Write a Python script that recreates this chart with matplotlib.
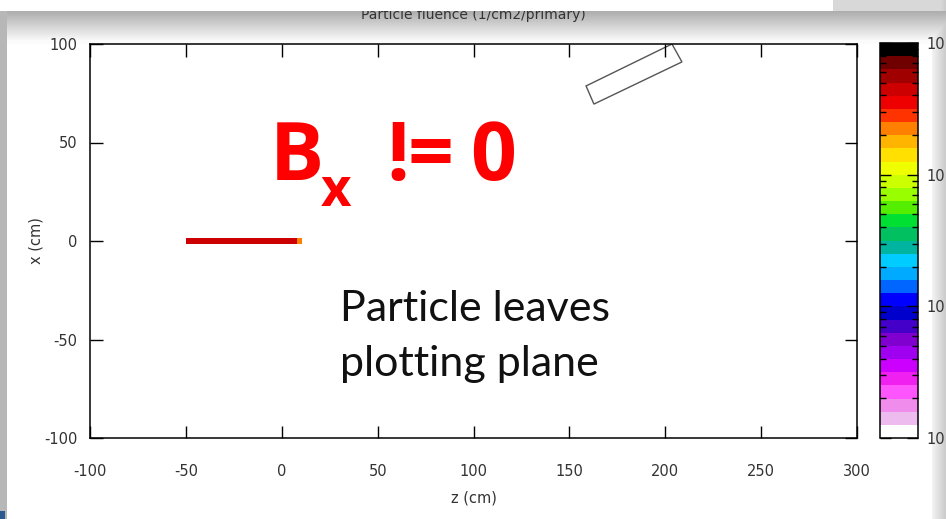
import numpy as np
import matplotlib.pyplot as plt
from matplotlib.colors import ListedColormap, LogNorm
from matplotlib.patches import Polygon
import matplotlib.cm as cm

plt.rcParams["axes.unicode_minus"] = False

# colour bands of the fluence palette, from lowest (white) to highest (black)
band_colors = [
    "#ffffff", "#eebbee", "#f08cec", "#ff55ff", "#f020f0", "#cc00ff",
    "#a000f0", "#8000d0", "#4400c8", "#0000cc", "#0000ff", "#0066ff",
    "#00aaff", "#00ccff", "#00b4a0", "#00c060", "#00e033", "#55ee00",
    "#99ff00", "#ccff00", "#f0ff00", "#ffe000", "#ffb400", "#ff8000",
    "#ff3300", "#ee0000", "#cc0000", "#a00000", "#700000", "#000000",
]
fluence_min, fluence_max = 1e-4, 1e-1

# fluence along the primary track (z bins, narrow x band)
track_z_edges = [-50, 8, 10.5]
track_x_edges = [-1.3, 1.3]
track_fluence = [[0.045, 0.022]]

# outline of the tilted element
box_z = [158.7, 162.8, 208.7, 203.5]
box_x = [78.7, 69.5, 90.9, 100.0]

z_ticks = [-100, -50, 0, 50, 100, 150, 200, 250, 300]
x_ticks = [-100, -50, 0, 50, 100]
cbar_ticks = [1e-4, 1e-3, 1e-2, 1e-1]

W, H = 946, 519
fig = plt.figure(figsize=(W / 100, H / 100), dpi=100)

# screenshot backdrop (window shadows)
bg = np.ones((H, W, 3))
top = np.concatenate([np.full(11, 0.85), np.linspace(0.68, 0.97, 29)])
bg[:40] = top[:, None, None]
bg[40:44] = 0.985
right = np.linspace(0.95, 0.80, 14)
bg[:, W - 14:] = np.minimum(bg[:, W - 14:], right[None, :, None])
bg[11:, :7] = 0.72
bg[H - 8:, :5] = [0.17, 0.36, 0.56]
fig.figimage(bg, xo=0, yo=0, origin="upper", zorder=-5)

# white window overlapping the title
cover = np.ones((11, 833, 3))
fig.figimage(cover, xo=0, yo=H - 11, origin="upper", zorder=10)

fig.text(473 / W, 1 - 15 / H, "Particle fluence (1/cm2/primary)", ha="center",
         va="center", fontsize=10, color="#333333", zorder=1)

cmap = ListedColormap(band_colors)
norm = LogNorm(vmin=fluence_min, vmax=fluence_max)

ax = fig.add_axes([90 / W, 1 - 438 / H, (857 - 90) / W, (438 - 44) / H])
ax.pcolormesh(track_z_edges, track_x_edges, np.array(track_fluence), cmap=cmap, norm=norm)
ax.add_patch(Polygon(list(zip(box_z, box_x)), closed=True, fill=False,
                     edgecolor="#555555", linewidth=1.0))
ax.set_xlim(-100, 300)
ax.set_ylim(-100, 100)
ax.set_xticks(z_ticks)
ax.set_yticks(x_ticks)
ax.tick_params(direction="in", top=True, right=True, length=9, width=1,
               labelsize=10.5, labelcolor="#333333")
ax.tick_params(axis="x", pad=19)
ax.tick_params(axis="y", pad=9)
for s in ax.spines.values():
    s.set_linewidth(1.1)
ax.set_xlabel("z (cm)", fontsize=10.5, color="#333333")
ax.set_ylabel("x (cm)", fontsize=10.5, color="#333333")
ax.xaxis.set_label_coords(0.5, -0.132)
ax.yaxis.set_label_coords(-0.060, 0.5)

# annotations
red_font = dict(family="Open Sans", weight="bold", color="#ff0000")
ax.text(-6.5, 31, "B", fontsize=58, ha="left", va="baseline", **red_font)
ax.text(20.5, 18, "x", fontsize=38, ha="left", va="baseline", **red_font)
ax.text(54.5, 31, "!", fontsize=58, ha="left", va="baseline", **red_font)
ax.text(65.5, 31, "=", fontsize=58, ha="left", va="baseline", **red_font)
ax.text(98.5, 31, "0", fontsize=58, ha="left", va="baseline", **red_font)
ax.text(30.4, -68.5, "Particle leaves\nplotting plane", fontsize=31, ha="left",
        va="baseline", family="Lato", color="#111111", linespacing=1.55)

cax = fig.add_axes([880 / W, 1 - 438 / H, 38 / W, (438 - 43) / H])
cb = fig.colorbar(cm.ScalarMappable(norm=norm, cmap=cmap), cax=cax)
cb.outline.set_linewidth(1.1)
cax.yaxis.set_ticks_position("both")
cax.tick_params(which="major", direction="in", length=8, width=1, labelsize=10.5,
                labelcolor="#333333", left=True, right=True, labelright=True, pad=6)
cax.tick_params(which="minor", direction="in", length=4, width=1, left=True, right=True)
cb.set_ticks(cbar_ticks)
cb.set_ticklabels(["10"] * len(cbar_ticks))

fig.savefig("out.png", dpi=100)
